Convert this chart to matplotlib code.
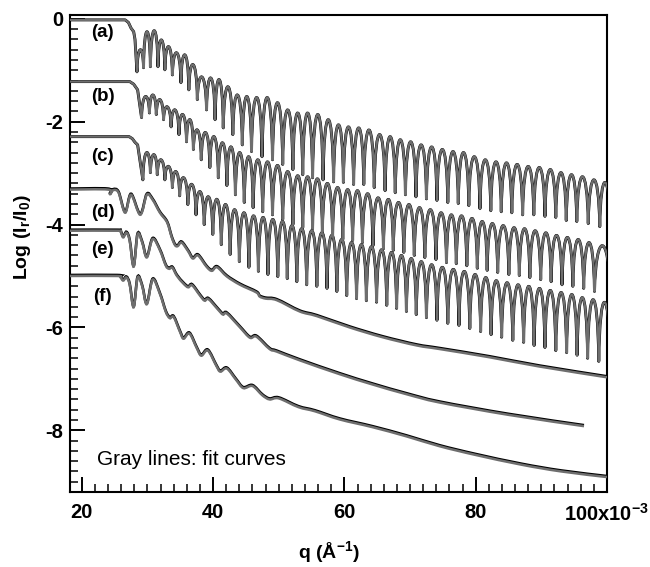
import matplotlib
matplotlib.use('Agg')
import matplotlib.pyplot as plt
from matplotlib.path import Path
from matplotlib.patches import PathPatch
import matplotlib.transforms as mtransforms
from matplotlib.ticker import MultipleLocator

plt.rcParams['font.family'] = ['Liberation Sans', 'DejaVu Sans']
plt.rcParams['mathtext.fontset'] = 'custom'
plt.rcParams['mathtext.rm'] = 'Liberation Sans'
plt.rcParams['mathtext.bf'] = 'Liberation Sans:bold'
plt.rcParams['axes.unicode_minus'] = False

# ---------------- data (q in units of 1e-3 1/A, values are log10(Ir/I0)) -------------
# curve (a): oscillating reflectivity
a_lead_q = [18.2, 26.6, 27.1, 27.5, 27.9, 28.1]
a_lead_v = [-0.02, -0.02, -0.07, -0.18, -0.25, -0.40]
a_v0_q = 28.4
a_end_q = 100.5
a_peak_q = [28.9, 29.9, 31.0, 32.2, 33.1, 34.5, 35.7, 36.9, 38.3, 39.7, 40.9, 42.2,
            43.8, 45.1, 46.6, 48.3, 49.8, 51.4, 52.9, 54.4, 55.9, 57.6, 59.1, 60.6,
            62.2, 63.7, 65.4, 67.0, 68.5, 70.1, 71.7, 73.3, 74.9, 76.6, 78.1, 79.8,
            81.5, 83.1, 84.7, 86.3, 88.0, 89.7, 91.4, 93.0, 94.6, 96.2, 98.1, 99.7]
a_peak_v = [-0.60, -0.25, -0.23, -0.41, -0.54, -0.66, -0.70, -0.89, -1.13, -1.15, -1.18, -1.32,
            -1.48, -1.51, -1.53, -1.53, -1.63, -1.77, -1.83, -1.83, -1.86, -1.96, -2.06, -2.10,
            -2.12, -2.16, -2.25, -2.29, -2.35, -2.39, -2.45, -2.49, -2.54, -2.58, -2.60, -2.68,
            -2.74, -2.78, -2.80, -2.83, -2.87, -2.89, -2.93, -2.99, -3.03, -3.07, -3.13, -3.18]
a_valley_v = [-1.03, -0.95, -0.93, -0.93, -0.99, -1.09, -1.24, -1.38, -1.57, -1.77, -1.96, -2.12,
              -2.25, -2.45, -2.58, -2.68, -2.74, -2.83, -2.93, -3.03, -3.09, -3.13, -3.17, -3.18,
              -3.22, -3.22, -3.28, -3.34, -3.38, -3.42, -3.46, -3.50, -3.53, -3.57, -3.59, -3.63,
              -3.69, -3.73, -3.75, -3.77, -3.81, -3.81, -3.84, -3.86, -3.92, -3.94, -3.98, -4.04,
              -4.08]

# curve (b)
b_lead_q = [18.2, 27.3, 27.9, 28.5]
b_lead_v = [-1.22, -1.22, -1.27, -1.38]
b_v0_q = 29.1
b_end_q = 100.5
b_peak_q = [29.8, 30.8, 31.9, 33.0, 34.2, 35.4, 36.5, 37.5, 38.9, 40.1, 41.5, 42.7,
            44.1, 45.4, 46.8, 48.3, 49.8, 51.4, 52.9, 54.4, 55.9, 57.4, 59.0, 60.5,
            62.0, 63.5, 65.2, 66.7, 68.2, 69.9, 71.4, 73.1, 74.8, 76.3, 77.8, 79.5,
            81.0, 82.5, 84.2, 85.9, 87.4, 89.1, 90.7, 92.3, 94.0, 95.6, 97.3, 98.9]
b_peak_v = [-1.51, -1.48, -1.57, -1.71, -1.77, -1.86, -1.96, -2.16, -2.21, -2.29, -2.41, -2.49,
            -2.60, -2.68, -2.74, -2.78, -2.85, -2.97, -3.05, -3.07, -3.11, -3.20, -3.28, -3.32,
            -3.34, -3.40, -3.48, -3.51, -3.57, -3.61, -3.67, -3.71, -3.77, -3.81, -3.83, -3.88,
            -3.94, -3.98, -4.02, -4.06, -4.08, -4.12, -4.16, -4.21, -4.25, -4.29, -4.35, -4.41]
b_valley_v = [-1.92, -1.83, -1.86, -1.96, -2.10, -2.25, -2.39, -2.54, -2.74, -2.89, -3.09, -3.24,
              -3.42, -3.57, -3.67, -3.75, -3.81, -3.90, -4.00, -4.06, -4.08, -4.14, -4.23, -4.29,
              -4.31, -4.35, -4.41, -4.47, -4.50, -4.54, -4.60, -4.64, -4.68, -4.74, -4.76, -4.80,
              -4.85, -4.89, -4.93, -4.97, -4.99, -5.03, -5.07, -5.11, -5.17, -5.20, -5.24, -5.30,
              -5.34]

# curve (c)
c_lead_q = [18.2, 27.2, 27.7, 28.1, 28.5]
c_lead_v = [-2.29, -2.29, -2.33, -2.40, -2.45]
c_v0_q = 29.3
c_end_q = 100.5
c_peak_q = [29.9, 31.0, 32.0, 33.3, 34.3, 35.5, 36.8, 38.0, 39.3, 40.6, 41.9, 43.3,
            44.7, 46.2, 47.6, 49.1, 50.6, 52.0, 53.5, 55.0, 56.6, 58.1, 59.6, 61.1,
            62.6, 64.1, 65.7, 67.2, 68.7, 70.2, 71.7, 73.3, 74.9, 76.6, 78.3, 79.9,
            81.6, 83.1, 84.8, 86.5, 88.1, 89.7, 91.4, 93.0, 94.7, 96.2, 97.9, 99.6]
c_peak_v = [-2.60, -2.64, -2.74, -2.87, -2.97, -3.09, -3.22, -3.36, -3.46, -3.51, -3.61, -3.71,
            -3.77, -3.83, -3.86, -3.90, -3.94, -4.02, -4.08, -4.12, -4.16, -4.21, -4.29, -4.35,
            -4.39, -4.43, -4.49, -4.54, -4.60, -4.66, -4.72, -4.78, -4.83, -4.87, -4.91, -4.97,
            -5.03, -5.09, -5.13, -5.17, -5.20, -5.24, -5.28, -5.32, -5.36, -5.42, -5.46, -5.51]
c_valley_v = [-3.13, -2.99, -3.03, -3.13, -3.28, -3.44, -3.61, -3.81, -4.00, -4.19, -4.39, -4.58,
              -4.72, -4.83, -4.91, -4.97, -5.01, -5.05, -5.11, -5.17, -5.20, -5.24, -5.30, -5.38,
              -5.44, -5.48, -5.51, -5.57, -5.63, -5.69, -5.75, -5.81, -5.86, -5.92, -5.96, -6.02,
              -6.08, -6.14, -6.19, -6.25, -6.29, -6.35, -6.39, -6.45, -6.49, -6.54, -6.60, -6.66,
              -6.70]

# curves (d), (e), (f): damped curves
d_q = [18.2, 24.0, 24.3, 24.8, 25.6, 26.6, 27.5, 28.9, 29.9, 30.8, 31.9, 33.0, 33.7, 34.2,
       34.6, 35.2, 36.2, 36.9, 37.7, 39.0, 39.8, 40.6, 42.1, 44.1, 46.6, 47.1, 48.0, 49.7,
       53.2, 55.8, 60.8, 65.8, 71.0, 74.5, 82.1, 89.7, 100.0]
d_v = [-3.32, -3.32, -3.41, -3.33, -3.38, -3.77, -3.42, -3.81, -3.42, -3.52, -3.77, -3.96, -4.25, -4.40,
       -4.42, -4.35, -4.52, -4.66, -4.60, -4.82, -4.90, -4.83, -5.01, -5.17, -5.32, -5.40, -5.44, -5.47,
       -5.69, -5.78, -6.00, -6.19, -6.35, -6.42, -6.58, -6.76, -6.97]

e_q = [18.2, 25.4, 25.9, 26.3, 26.8, 27.3, 27.9, 28.5, 29.2, 29.9, 30.8, 31.9, 32.8, 33.3,
       33.8, 34.5, 35.5, 36.2, 36.8, 38.0, 38.7, 39.3, 40.8, 41.5, 42.1, 44.1, 45.6, 46.6,
       48.6, 49.7, 53.2, 59.3, 64.3, 69.5, 74.5, 85.0, 96.5]
e_v = [-4.12, -4.12, -4.14, -4.25, -4.16, -4.32, -4.82, -4.19, -4.35, -4.64, -4.28, -4.50, -4.80, -4.86,
       -4.84, -5.00, -5.15, -5.22, -5.18, -5.38, -5.48, -5.45, -5.66, -5.75, -5.73, -6.00, -6.20, -6.18,
       -6.42, -6.47, -6.64, -6.91, -7.11, -7.30, -7.46, -7.70, -7.92]

f_q = [18.2, 25.4, 25.9, 26.3, 26.8, 27.3, 27.9, 28.5, 29.2, 29.9, 30.8, 31.9, 32.8, 33.4,
       34.0, 35.0, 35.5, 36.4, 37.5, 38.2, 39.2, 40.5, 41.1, 42.1, 43.5, 44.6, 46.0, 47.5,
       48.6, 50.0, 53.0, 55.5, 59.3, 64.3, 69.5, 74.5, 80.0, 87.0, 93.0, 100.0]
f_v = [-5.00, -5.00, -5.03, -5.09, -5.03, -5.17, -5.61, -5.03, -5.20, -5.55, -5.07, -5.35, -5.70, -5.82,
       -5.80, -6.10, -6.22, -6.12, -6.40, -6.55, -6.45, -6.75, -6.86, -6.80, -7.02, -7.18, -7.14, -7.32,
       -7.40, -7.38, -7.55, -7.63, -7.79, -7.94, -8.12, -8.31, -8.48, -8.67, -8.80, -8.91]

curve_labels = ['(a)', '(b)', '(c)', '(d)', '(e)', '(f)']
label_q = 23.2
label_v = [-0.27, -1.51, -2.68, -3.77, -4.49, -5.40]

xtick_vals = [20, 40, 60, 80, 100]
xtick_text = ['20', '40', '60', '80', r'100x10$^{\mathbf{-3}}$']
ytick_vals = [0, -2, -4, -6, -8]
ytick_text = ['0', '-2', '-4', '-6', '-8']

GRAY = '#6e6e6e'


def arch_path(lead_q, lead_v, v0_q, peak_q, peak_v, valley_v, end_q):
    vq = [v0_q] + [(peak_q[i] + peak_q[i + 1]) / 2 for i in range(len(peak_q) - 1)] + [end_q]
    verts = list(zip(lead_q, lead_v))
    codes = [Path.MOVETO] + [Path.LINETO] * (len(lead_q) - 1)
    verts.append((vq[0], valley_v[0]))
    codes.append(Path.LINETO)
    for i in range(len(peak_q)):
        x0, y0 = vq[i], valley_v[i]
        x3, y3 = vq[i + 1], valley_v[i + 1]
        w = x3 - x0
        yc = (peak_v[i] - 0.125 * (y0 + y3)) / 0.75
        verts += [(x0 + 0.08 * w, yc), (x3 - 0.08 * w, yc), (x3, y3)]
        codes += [Path.CURVE4] * 3
    return Path(verts, codes)


def smooth_path(qs, vs):
    """Cubic Bezier path passing through every read point (Catmull-Rom style handles)."""
    pts = list(zip(qs, vs))
    n = len(pts)
    verts = [pts[0]]
    codes = [Path.MOVETO]
    for i in range(n - 1):
        p0 = pts[i - 1] if i > 0 else pts[i]
        p1 = pts[i]
        p2 = pts[i + 1]
        p3 = pts[i + 2] if i + 2 < n else pts[i + 1]
        c1 = (p1[0] + (p2[0] - p0[0]) / 6.0, p1[1] + (p2[1] - p0[1]) / 6.0)
        c2 = (p2[0] - (p3[0] - p1[0]) / 6.0, p2[1] - (p3[1] - p1[1]) / 6.0)
        verts += [c1, c2, p2]
        codes += [Path.CURVE4] * 3
    return Path(verts, codes)


fig = plt.figure(figsize=(6.5, 5.67), dpi=100)
ax = fig.add_axes([0.1077, 0.1323, 0.8261, 0.8417])
ax.set_xlim(18.2, 100.0)
ax.set_ylim(-9.2, 0.08)

osc = [
    (a_lead_q, a_lead_v, a_v0_q, a_peak_q, a_peak_v, a_valley_v, a_end_q),
    (b_lead_q, b_lead_v, b_v0_q, b_peak_q, b_peak_v, b_valley_v, b_end_q),
    (c_lead_q, c_lead_v, c_v0_q, c_peak_q, c_peak_v, c_valley_v, c_end_q),
]
for args in osc:
    p = arch_path(*args)
    ax.add_patch(PathPatch(p, fill=False, edgecolor='black', lw=2.1, joinstyle='round', zorder=2))
    ax.add_patch(PathPatch(p, fill=False, edgecolor=GRAY, lw=1.6, joinstyle='round', zorder=3))

shift_up = mtransforms.ScaledTranslation(0, 1.0 / 100, fig.dpi_scale_trans)
for qq, vv in [(d_q, d_v), (e_q, e_v), (f_q, f_v)]:
    p = smooth_path(qq, vv)
    ax.add_patch(PathPatch(p, fill=False, edgecolor='black', lw=1.9, zorder=2,
                           transform=ax.transData + shift_up))
    ax.add_patch(PathPatch(p, fill=False, edgecolor=GRAY, lw=1.8, zorder=3))

for lab, v in zip(curve_labels, label_v):
    ax.text(label_q, v, lab, ha='center', va='center', fontsize=13.5, fontweight='bold')

ax.text(22.3, -8.56, 'Gray lines: fit curves', ha='left', va='center', fontsize=15)

ax.set_xticks(xtick_vals)
ax.set_xticklabels(xtick_text, fontweight='bold', fontsize=14.5)
ax.set_yticks(ytick_vals)
ax.set_yticklabels(ytick_text, fontweight='bold', fontsize=14.5)
ax.xaxis.set_minor_locator(MultipleLocator(2))
ax.yaxis.set_minor_locator(MultipleLocator(0.2))
ax.tick_params(which='major', direction='in', length=11, width=1.4, top=False, right=False)
ax.tick_params(axis='x', which='major', pad=8)
ax.tick_params(axis='y', which='major', pad=5)
ax.tick_params(which='minor', direction='in', length=5.5, width=1.1, top=False, right=False)
for s in ax.spines.values():
    s.set_linewidth(1.5)

ax.set_xlabel(r'q (Å$^{\mathbf{-1}}$)', fontsize=14, fontweight='bold')
ax.xaxis.set_label_coords(0.482, -0.128)
ax.xaxis.label.set_va('center')
ax.set_ylabel(r'Log (I$_{\mathbf{r}}$/I$_{\mathbf{0}}$)', fontsize=14, fontweight='bold')
ax.yaxis.set_label_coords(-0.089, 0.534)
ax.yaxis.label.set_va('center')

fig.savefig('out.png', dpi=100)
